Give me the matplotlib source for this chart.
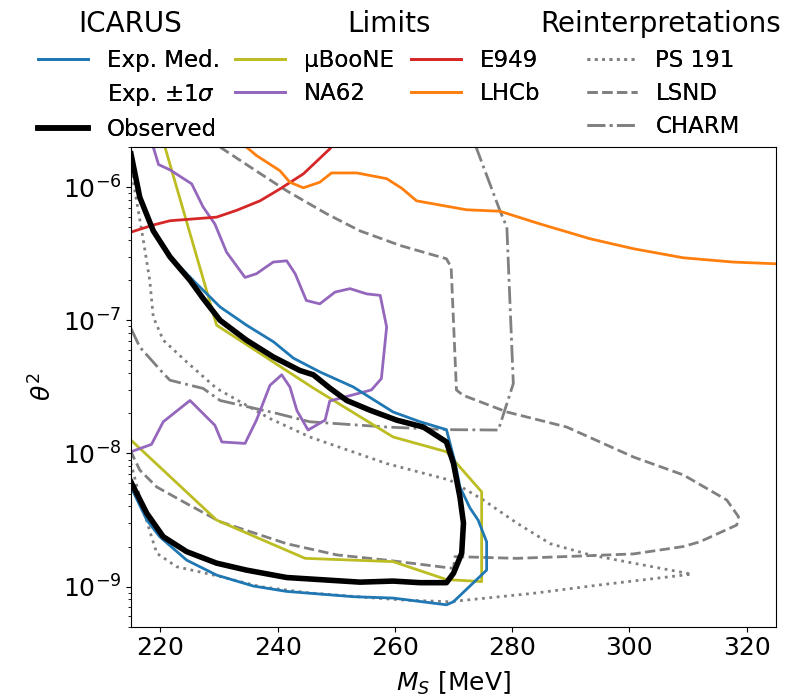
import numpy as np
import matplotlib.pyplot as plt
from matplotlib.lines import Line2D

# ICARUS observed limit
obs_m = [215, 216.5, 218.8, 221.65, 225.06, 227.3, 230.2, 234.7, 239.3, 243.8, 246.1, 248.9,
         251.8, 255.8, 260.3, 264.85, 268.8, 270.0, 271.1, 271.7, 271.4, 270.0, 268.8, 264.3,
         259.7, 254.05, 248.4, 241.55, 234.7, 229.6, 224.5, 220.5, 217.7, 215]
obs_t = [1.78e-6, 8.4e-7, 4.7e-7, 3.0e-7, 2.0e-7, 1.46e-7, 1.0e-7, 7.1e-8, 5.3e-8, 4.2e-8, 3.9e-8, 3.1e-8,
         2.5e-8, 2.11e-8, 1.78e-8, 1.58e-8, 1.22e-8, 8.4e-9, 4.7e-9, 3.0e-9, 1.78e-9, 1.26e-9, 1.07e-9, 1.07e-9,
         1.10e-9, 1.08e-9, 1.12e-9, 1.17e-9, 1.33e-9, 1.5e-9, 1.83e-9, 2.37e-9, 3.55e-9, 6.1e-9]

# ICARUS expected median
med_m = [215, 216.5, 218.8, 221.65, 226.2, 230.2, 234.7, 239.3, 242.7, 247.2, 252.9, 259.7, 264.3,
         268.8, 270.3, 271.1, 272.8, 274.2, 275.65, 275.65, 270.0, 268.8, 259.7, 252.9, 241.55,
         235.85, 229.6, 224.5, 219.9, 217.7, 215]
med_t = [1.78e-6, 8.4e-7, 4.7e-7, 3.0e-7, 1.88e-7, 1.26e-7, 9.2e-8, 6.9e-8, 5.2e-8, 4.1e-8, 3.16e-8, 2.05e-8, 1.73e-8,
         1.51e-8, 8.4e-9, 5.6e-9, 3.9e-9, 3.16e-9, 2.17e-9, 1.33e-9, 7.7e-10, 7.3e-10, 8.2e-10, 8.4e-10, 9.2e-10,
         1.01e-9, 1.22e-9, 1.58e-9, 2.37e-9, 3.16e-9, 5.6e-9]

# existing limits
uboone_m = [220.8, 229.6, 246.1, 259.7, 268.8, 274.8, 274.8, 268.8, 259.7, 244.7, 229.6, 215]
uboone_t = [2.0e-6, 9.2e-8, 3.1e-8, 1.33e-8, 1.03e-8, 5.15e-9, 1.09e-9, 1.13e-9, 1.54e-9, 1.63e-9, 3.16e-9, 1.26e-8]

na62_m = [218.8, 219.7, 221.65, 225.35, 227.3, 229.3, 231.3, 234.45, 236.4, 239.25, 241.55, 243.0, 244.9,
          247.2, 249.8, 252.35, 255.2, 257.5, 258.6, 257.7, 256.0, 248.9, 248.1, 245.2, 243.3, 242.1,
          240.7, 238.7, 236.4, 234.45, 230.5, 229.3, 225.06, 220.5, 218.5, 215]
na62_t = [2.0e-6, 1.48e-6, 1.35e-6, 1.06e-6, 7.1e-7, 5.3e-7, 3.25e-7, 2.1e-7, 2.24e-7, 2.74e-7, 2.8e-7, 2.24e-7, 1.41e-7,
          1.33e-7, 1.63e-7, 1.73e-7, 1.58e-7, 1.54e-7, 8.9e-8, 3.65e-8, 3.0e-8, 2.48e-8, 1.78e-8, 1.5e-8, 2.1e-8, 3.16e-8,
          3.9e-8, 3.25e-8, 1.78e-8, 1.19e-8, 1.22e-8, 1.63e-8, 2.5e-8, 1.73e-8, 1.17e-8, 1.03e-8]

e949_m = [215, 218.8, 221.65, 229.6, 233.0, 237.0, 240.4, 244.4, 248.9, 249.5]
e949_t = [4.6e-7, 5.2e-7, 5.6e-7, 5.96e-7, 6.7e-7, 7.9e-7, 9.7e-7, 1.26e-6, 1.94e-6, 2.1e-6]

lhcb_m = [234.7, 236.4, 240.4, 242.1, 244.4, 247.2, 249.2, 253.5, 258.6, 261.2, 263.7, 272.2, 277.9,
          284.75, 293.3, 300.7, 309.2, 317.7, 325]
lhcb_t = [2.0e-6, 1.73e-6, 1.33e-6, 1.09e-6, 9.9e-7, 1.09e-6, 1.28e-6, 1.28e-6, 1.16e-6, 9.8e-7, 7.9e-7, 6.77e-7, 6.6e-7,
          5.3e-7, 4.1e-7, 3.45e-7, 2.95e-7, 2.74e-7, 2.66e-7]

# reinterpretations of older experiments
ps191_m = [215.0, 217.1, 218.2, 218.8, 220.5, 224.5, 229.6, 238.7, 245.5, 258.6, 269.4, 275.1, 280.8, 286.5,
           293.3, 300.7, 310.6, 295.0, 283.6, 269.4, 262.0, 255.0, 245.0, 237.0, 230.2, 222.8, 219.4, 218.5,
           216.5, 215]
ps191_t = [1.4e-6, 4e-7, 2e-7, 1.06e-7, 7.1e-8, 4.87e-8, 3.08e-8, 1.83e-8, 1.33e-8, 8.4e-9, 6.3e-9, 4.47e-9, 3.0e-9, 2.1e-9,
           1.73e-9, 1.5e-9, 1.24e-9, 1.03e-9, 8.9e-10, 7.7e-10, 7.9e-10, 8.3e-10, 9.0e-10, 1.0e-9, 1.19e-9, 1.41e-9, 1.78e-9, 2.37e-9,
           4.7e-9, 8.4e-9]

lsnd_m = [230.2, 235.85, 241.55, 248.4, 254.05, 260.9, 268.8, 269.6, 270.5, 271.6, 279.1, 289.3, 300.7, 309.2,
          316.6, 318.6, 318.3, 312.0, 309.2, 300.7, 292.1, 280.8, 270.25, 270.0, 258.6, 250.1, 241.55, 230.2,
          224.5, 219.4, 216.5, 215]
lsnd_t = [2e-6, 1.37e-6, 9.4e-7, 6.3e-7, 4.7e-7, 3.65e-7, 2.9e-7, 2.5e-7, 3.0e-8, 2.74e-8, 2.05e-8, 1.58e-8, 9.4e-9, 6.9e-9,
          4.47e-9, 3.35e-9, 2.9e-9, 2.17e-9, 2.0e-9, 1.76e-9, 1.7e-9, 1.63e-9, 1.68e-9, 1.37e-9, 1.58e-9, 1.73e-9, 2.1e-9, 3.07e-9,
          4.2e-9, 5.6e-9, 7.5e-9, 1.03e-8]

charm_m = [215, 216.5, 220.5, 221.65, 227.3, 230.2, 239.85, 245.5, 258.6, 268.8, 277.65, 280.2, 279.1, 277.9, 273.85]
charm_t = [8.7e-8, 6.3e-8, 4.0e-8, 3.55e-8, 3.08e-8, 2.5e-8, 2.0e-8, 1.73e-8, 1.58e-8, 1.51e-8, 1.5e-8, 3.35e-8, 5.0e-7,
           6.7e-7, 2.0e-6]

fig = plt.figure(figsize=(7.9, 6.97), dpi=100)
ax = fig.add_axes([0.1658, 0.1009, 0.8165, 0.688])

lw = 2
h_ps, = ax.plot(ps191_m, ps191_t, color="gray", ls=":", lw=lw, label="PS 191")
h_lsnd, = ax.plot(lsnd_m, lsnd_t, color="gray", ls="--", lw=lw, label="LSND")
h_charm, = ax.plot(charm_m, charm_t, color="gray", ls="-.", lw=lw, label="CHARM")
h_ub, = ax.plot(uboone_m, uboone_t, color="#bcbd22", lw=lw, label="\u03bcBooNE")
h_na, = ax.plot(na62_m, na62_t, color="#9467bd", lw=lw, label="NA62")
h_e949, = ax.plot(e949_m, e949_t, color="#d62728", lw=lw, label="E949")
h_lhcb, = ax.plot(lhcb_m, lhcb_t, color="#ff7f0e", lw=lw, label="LHCb")
h_med, = ax.plot(med_m, med_t, color="#1f77b4", lw=lw, label="Exp. Med.")
h_obs, = ax.plot(obs_m, obs_t, color="black", lw=4, label="Observed")
h_band = Line2D([], [], color="none", label="Exp. $\\pm 1\\sigma$")

ax.set_yscale("log")
ax.set_xlim(215, 325)
ax.set_ylim(5e-10, 2e-6)
ax.set_xticks([220, 240, 260, 280, 300, 320])
ax.tick_params(labelsize=18)
ax.set_xlabel("$M_S$ [MeV]", fontsize=18, labelpad=7)
ax.set_ylabel("$\\theta^2$", fontsize=18)

# legend columns, each with its own anchor
leg_kw = dict(loc="upper left", frameon=False, fontsize=16.5,
              handlelength=2.2, labelspacing=0.44, borderaxespad=0.0)
top = 0.943
groups = [([h_med, h_band, h_obs], 0.0365),
          ([h_ub, h_na], 0.2858),
          ([h_e949, h_lhcb], 0.5086),
          ([h_ps, h_lsnd, h_charm], 0.731)]
for handles, x0 in groups:
    fig.add_artist(fig.legend(handles=handles, bbox_to_anchor=(x0, top), **leg_kw))

# group headings
for text, xc in [("ICARUS", 0.1652), ("Limits", 0.492), ("Reinterpretations", 0.8365)]:
    fig.text(xc, 0.9545, text, ha="center", va="baseline", fontsize=20)

fig.savefig("out.png", dpi=100)
